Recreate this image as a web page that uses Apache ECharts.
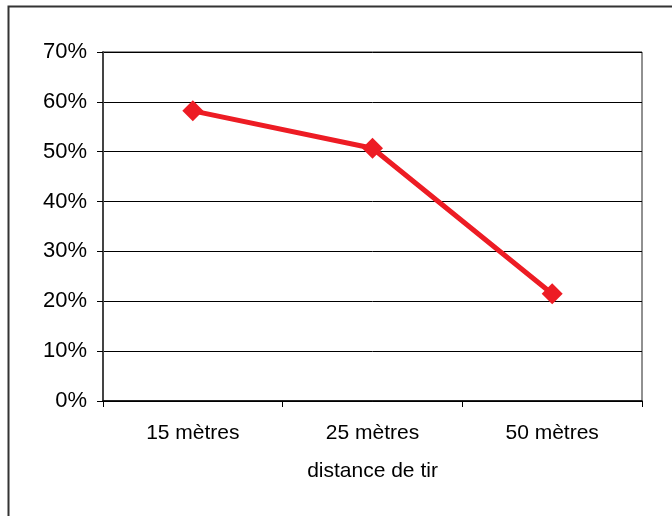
<!DOCTYPE html>
<html>
<head>
<meta charset="utf-8">
<script src="https://cdn.jsdelivr.net/npm/echarts@6/dist/echarts.min.js"></script>
<style>
  html, body { margin: 0; padding: 0; background: #fff; }
  #chart { width: 672px; height: 516px; }
</style>
</head>
<body>
<div id="chart"></div>
<script>
// Shooting success rate by distance
const categories = ['15 mètres', '25 mètres', '50 mètres'];
const successRate = [58.2, 50.7, 21.5];
const yTicks = { min: 0, max: 70, interval: 10 };

const chart = echarts.init(document.getElementById('chart'));
const font = 'Liberation Sans, Arial, sans-serif';

chart.setOption({
  animation: false,
  backgroundColor: '#fff',
  graphic: [{
    type: 'rect',
    shape: { x: 8.5, y: 6.5, width: 700, height: 600 },
    style: { fill: 'none', stroke: '#333', lineWidth: 2 },
    silent: true
  }],
  grid: {
    left: 103, right: 30, top: 52, bottom: 115,
    show: true, borderColor: '#222', borderWidth: 1, backgroundColor: 'transparent'
  },
  xAxis: {
    type: 'category',
    data: categories,
    boundaryGap: true,
    name: 'distance de tir',
    nameLocation: 'middle',
    nameGap: 60,
    nameTextStyle: { fontFamily: font, fontSize: 21, color: '#000' },
    axisLine: { lineStyle: { color: '#000', width: 1.5 } },
    axisTick: { show: true, length: 6, inside: false, lineStyle: { color: '#000' } },
    axisLabel: { fontFamily: font, fontSize: 21, color: '#000', margin: 22 },
    splitLine: { show: false }
  },
  yAxis: {
    type: 'value',
    min: yTicks.min, max: yTicks.max, interval: yTicks.interval,
    axisLine: { show: true, lineStyle: { color: '#444', width: 2 } },
    axisTick: { show: true, length: 6, lineStyle: { color: '#000' } },
    axisLabel: { fontFamily: font, fontSize: 22, color: '#000', margin: 16,
      formatter: v => v + '%' },
    splitLine: { show: true, lineStyle: { color: '#000', width: 1 } }
  },
  series: [{
    type: 'line',
    data: successRate,
    symbol: 'diamond',
    symbolSize: 21,
    lineStyle: { color: '#ED1C24', width: 5 },
    itemStyle: { color: '#ED1C24' }
  }]
});
</script>
</body>
</html>
